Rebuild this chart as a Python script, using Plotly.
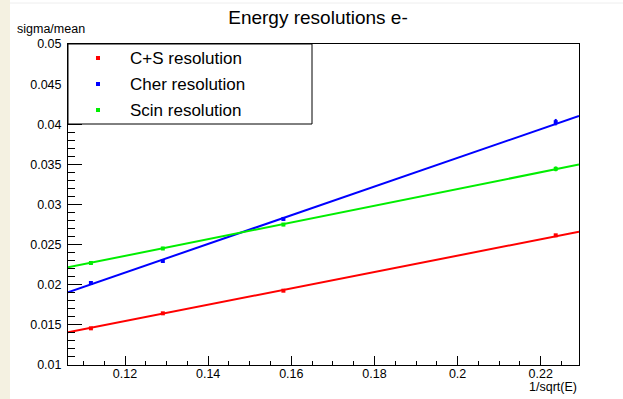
import plotly.graph_objects as go

# ---- data ----
inv_sqrt_e = [0.1118, 0.1291, 0.1581, 0.2236]
series_names = ["C+S resolution", "Cher resolution", "Scin resolution"]
series_colors = ["#ff0000", "#0000ff", "#00ee00"]
cs_res = [0.01457, 0.01644, 0.01926, 0.02616]
cher_res = [0.02022, 0.02296, 0.02820, 0.04026]
scin_res = [0.02271, 0.02452, 0.02750, 0.03444]
cs_err = [0.0001, 0.0001, 0.0001, 0.0001]
cher_err = [0.0002, 0.0002, 0.0002, 0.0004]
scin_err = [0.0002, 0.0002, 0.0002, 0.0003]
# linear fits: resolution = const + slope * x
fit_const = [0.003228, 0.000055, 0.01109]
fit_slope = [0.1020, 0.1788, 0.1042]

x_range = [0.10629, 0.2292]
y_range = [0.01, 0.05]
x_ticks = [0.12, 0.14, 0.16, 0.18, 0.2, 0.22]
y_ticks = [0.01, 0.015, 0.02, 0.025, 0.03, 0.035, 0.04, 0.045, 0.05]

values = [cs_res, cher_res, scin_res]
errors = [cs_err, cher_err, scin_err]

W, H = 623, 399
L, R, T, B = 68, 44, 44, 34
pw, ph = W - L - R, H - T - B

def px_to_paper_x(px):
    return (px - L) / pw

def px_to_paper_y(py):
    return (H - B - py) / ph

fig = go.Figure()

for name, col, vals, errs, c0, c1 in zip(series_names, series_colors, values, errors, fit_const, fit_slope):
    fx = [x_range[0], x_range[1]]
    fy = [c0 + c1 * v for v in fx]
    fig.add_trace(go.Scatter(x=fx, y=fy, mode="lines", line=dict(color=col, width=2),
                             showlegend=False, hoverinfo="skip"))
    fig.add_trace(go.Scatter(x=inv_sqrt_e, y=vals, mode="markers", name=name,
                             marker=dict(symbol="square", size=4, color=col, line=dict(width=0)),
                             error_y=dict(type="data", array=errs, color=col, thickness=2, width=0),
                             showlegend=False))

font_family = "Liberation Sans, Arial, Helvetica, sans-serif"

shapes = []
annotations = []

# left beige strip and faint top line of the page
shapes.append(dict(type="rect", xref="paper", yref="paper",
                   x0=px_to_paper_x(0), x1=px_to_paper_x(10),
                   y0=px_to_paper_y(H), y1=px_to_paper_y(0),
                   fillcolor="#f4f1e1", line=dict(width=0), layer="below"))
shapes.append(dict(type="line", xref="paper", yref="paper",
                   x0=px_to_paper_x(10), x1=px_to_paper_x(W),
                   y0=px_to_paper_y(3), y1=px_to_paper_y(3),
                   line=dict(color="#eeeeee", width=1), layer="below"))

# manual legend box (ROOT style)
shapes.append(dict(type="rect", xref="paper", yref="paper",
                   x0=0, x1=px_to_paper_x(312), y0=px_to_paper_y(124), y1=1,
                   fillcolor="white", line=dict(color="black", width=1), layer="above"))
legend_y_px = [58, 84, 110]
for name, col, ly in zip(series_names, series_colors, legend_y_px):
    shapes.append(dict(type="rect", xref="paper", yref="paper",
                       xsizemode="pixel", ysizemode="pixel",
                       xanchor=px_to_paper_x(98), yanchor=px_to_paper_y(ly),
                       x0=-2, x1=2, y0=-2, y1=2,
                       fillcolor=col, line=dict(width=0), layer="above"))
    annotations.append(dict(text=name, xref="paper", yref="paper",
                            x=px_to_paper_x(128), y=px_to_paper_y(ly),
                            xanchor="left", yanchor="middle", showarrow=False,
                            font=dict(family=font_family, size=17, color="black")))

# axis titles (ROOT style placement)
annotations.append(dict(text="sigma/mean", xref="paper", yref="paper",
                        x=px_to_paper_x(15), y=px_to_paper_y(29),
                        xanchor="left", yanchor="middle", showarrow=False,
                        font=dict(family=font_family, size=12.5, color="black")))
annotations.append(dict(text="1/sqrt(E)", xref="paper", yref="paper",
                        x=1, y=px_to_paper_y(387),
                        xanchor="right", yanchor="middle", showarrow=False,
                        font=dict(family=font_family, size=12.5, color="black")))

fig.update_layout(
    width=W, height=H,
    margin=dict(l=L, r=R, t=T, b=B),
    paper_bgcolor="white", plot_bgcolor="white",
    title=dict(text="Energy resolutions e-", x=318 / W, y=1 - 17 / H,
               xanchor="center", yanchor="middle",
               font=dict(family=font_family, size=19, color="black")),
    font=dict(family=font_family, size=12.5, color="black"),
    shapes=shapes, annotations=annotations,
    showlegend=False,
)

fig.update_xaxes(range=x_range, tickvals=x_ticks, ticks="inside", ticklen=9, tickwidth=1,
                 tickcolor="black", showline=True, linecolor="black", linewidth=1, mirror=True,
                 showgrid=False, zeroline=False, ticklabelstandoff=-3,
                 tickfont=dict(family=font_family, size=12.5, color="black"),
                 minor=dict(dtick=0.005, tick0=0.1, ticks="inside", ticklen=4.5,
                            tickcolor="black", showgrid=False))
fig.update_yaxes(range=y_range, tickvals=y_ticks, ticks="inside", ticklen=14, tickwidth=1,
                 tickcolor="black", showline=True, linecolor="black", linewidth=1, mirror=True,
                 showgrid=False, zeroline=False, ticklabelstandoff=3,
                 tickfont=dict(family=font_family, size=12.5, color="black"),
                 minor=dict(dtick=0.001, tick0=0.01, ticks="inside", ticklen=7,
                            tickcolor="black", showgrid=False))

fig.write_html("out.html")
